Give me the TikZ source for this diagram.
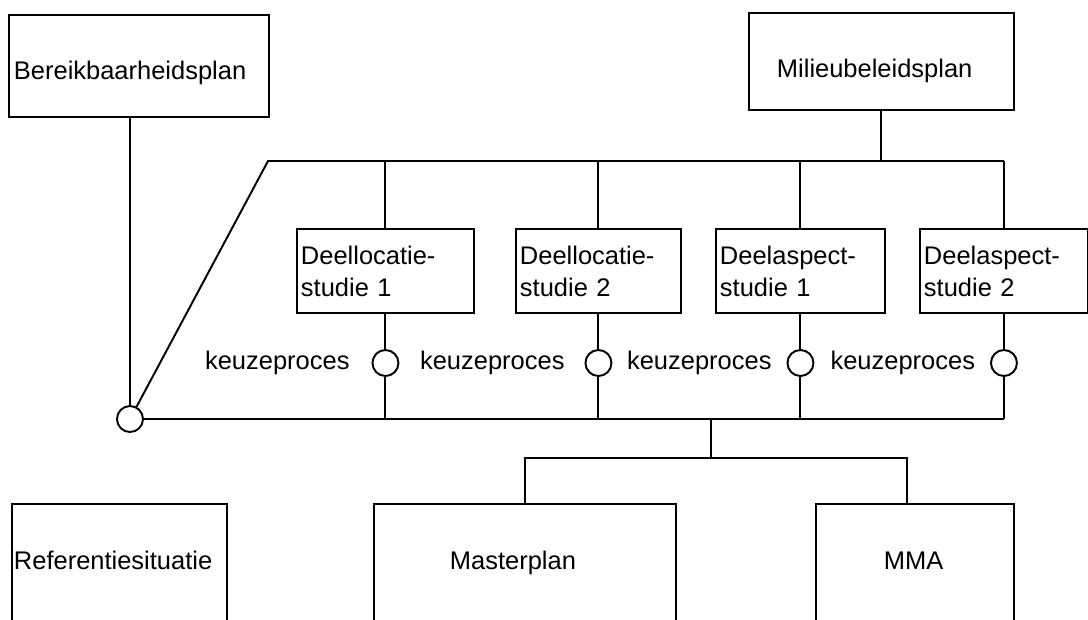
\documentclass[tikz,border=0pt]{standalone}
\usepackage{fontspec}
\setmainfont{Liberation Sans}
\usetikzlibrary{positioning}
\tikzset{
  plan/.style={draw, rectangle, anchor=north west, align=left, inner ysep=0pt,
    font=\fontsize{14.5pt}{18.2pt}\selectfont},
  studie/.style={plan, inner xsep=0.08cm, minimum height=1.68cm},
  keuze/.style={draw, circle, minimum size=0.52cm, inner sep=0pt},
  keuzetxt/.style={inner sep=0pt, font=\fontsize{14.5pt}{18.2pt}\selectfont},
}
\begin{document}
\begin{tikzpicture}[x=0.02cm, y=-0.02cm, line width=1.1pt]
        \clip (0,0) rectangle (1088,619);
        % plannen bovenaan
        \node[plan, inner xsep=0.1cm, text width=5.0cm, text height=1.3cm, text depth=0.74cm] (bereik) at (8,14) {Bereikbaarheidsplan};
        \node[plan, inner xsep=0.56cm, text width=4.18cm, text height=1.3cm, text depth=0.64cm] (milieu) at (748,12) {Milieubeleidsplan};
        % deelstudies
        \node[studie, text width=3.38cm] (dl1) at (296,228) {Deellocatie-\\studie 1};
        \node[studie, text width=3.14cm] (dl2) at (515,228) {Deellocatie-\\studie 2};
        \node[studie, text width=3.22cm] (da1) at (715,228) {Deelaspect-\\studie 1};
        \node[studie, text width=3.2cm] (da2) at (919,228) {Deelaspect-\\studie 2};
        % keuzeprocessen
        \node[keuze] (k0) at (130,419) {};
        \node[keuze] (k1) at (dl1.south |- 0,363) {};
        \node[keuze] (k2) at (dl2.south |- 0,363) {};
        \node[keuze] (k3) at (da1.south |- 0,363) {};
        \node[keuze] (k4) at (da2.south |- 0,363) {};
        \node[keuzetxt, left=0.42cm of k1] (t1) {keuzeproces};
        \node[keuzetxt, left=0.38cm of k2] (t2) {keuzeproces};
        \node[keuzetxt, left=0.28cm of k3] (t3) {keuzeproces};
        \node[keuzetxt, left=0.28cm of k4] (t4) {keuzeproces};
        % plannen onderaan
        \node[plan, inner xsep=0.04cm, text width=4.22cm, text height=1.32cm, text depth=2cm] (ref) at (11,503) {Referentiesituatie};
        \node[plan, inner xsep=1.52cm, text width=3.0cm, text height=1.32cm, text depth=2cm] (master) at (373,503) {Masterplan};
        \node[plan, inner xsep=1.36cm, text width=1.24cm, text height=1.32cm, text depth=2cm] (mma) at (815,503) {MMA};
        % verbindingen
        \coordinate (hoek) at (268,161);
        \coordinate (split) at (711,458);
        \draw (bereik.south -| k0) -- (k0);
        \draw (k0) -- (hoek) -- (hoek -| da2.north);
        \draw (milieu.south) -- (milieu.south |- hoek);
        \foreach \s/\k in {dl1/k1, dl2/k2, da1/k3, da2/k4} {
            \draw (\s.north) -- (\s.north |- hoek);
            \draw (\s.south) -- (\k) -- (\k |- k0);
        }
        \draw (k0) -- (k4 |- k0);
        \draw (split |- k0) -- (split);
        \draw (master.north) |- (split) -| ([xshift=-0.16cm]mma.north);
    \end{tikzpicture}
\end{document}
